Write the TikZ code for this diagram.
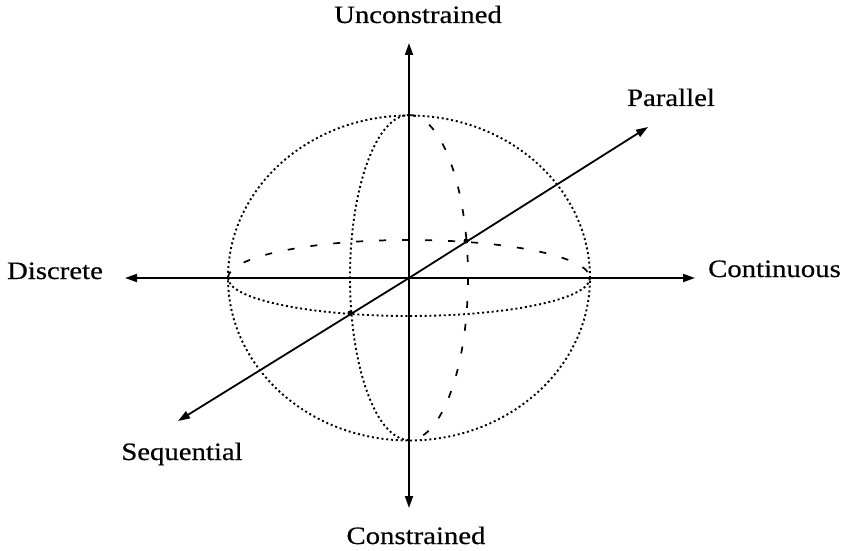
\documentclass[tikz,border=0pt]{standalone}
\usepackage{fontspec}
\setmainfont{Liberation Serif}[FakeStretch=1.15,FakeBold=0.5]
\usetikzlibrary{arrows.meta}
\begin{document}
\begin{tikzpicture}[x=1pt,y=-1pt,
  axis/.style={line width=1.8pt, -{Triangle[length=12pt,width=8pt]}},
  dotline/.style={line width=1.9pt, dash pattern=on 2pt off 2.8pt},
  dashline/.style={line width=1.7pt, dash pattern=on 7pt off 16pt},
  lbl/.style={font=\fontsize{25}{30}\selectfont, inner sep=0pt, anchor=base}]
\useasboundingbox (0,0) rectangle (846,551);
\coordinate (O) at (409,278);
\coordinate (tipU) at (409,43);
\coordinate (tipD) at (409,508);
\coordinate (tipL) at (125,278);
\coordinate (tipR) at (695,278);
\coordinate (tipP) at (648,127);
\coordinate (tipS) at (178,421);
\coordinate (L) at (228,278);
\coordinate (T) at (409,115);
% outer sphere
\draw[dotline] (O) ellipse [x radius=181pt, y radius=162.5pt];
% equator: back dashed, front dotted
\draw[dashline] (L) arc[start angle=180, end angle=0, x radius=181pt, y radius=38pt];
\draw[dotline] (L) arc[start angle=180, end angle=360, x radius=181pt, y radius=38pt];
% meridian: front (left) dotted, back (right) dashed
\draw[dotline] (T) arc[start angle=90, end angle=270, x radius=59pt, y radius=162.5pt];
\draw[dashline] (T) arc[start angle=90, end angle=-90, x radius=59pt, y radius=162.5pt];
% axes
\draw[axis] (O) -- (tipU);
\draw[axis] (O) -- (tipD);
\draw[axis] (O) -- (tipL);
\draw[axis] (O) -- (tipR);
\draw[axis] (O) -- (tipP);
\draw[axis] (O) -- (tipS);
% intersection dots
\fill (350,313) circle (2.5pt);
\fill (466,241) circle (2.5pt);
% labels
\node[lbl] (un) at (418,23) {Unconstrained};
\node[lbl] (co) at (416,544) {Constrained};
\node[lbl] (di) at (55,279) {Discrete};
\node[lbl] (ct) at (774.5,277) {Continuous};
\node[lbl] (pa) at (671,106) {Parallel};
\node[lbl] (se) at (182,460) {Sequential};
\end{tikzpicture}
\end{document}
